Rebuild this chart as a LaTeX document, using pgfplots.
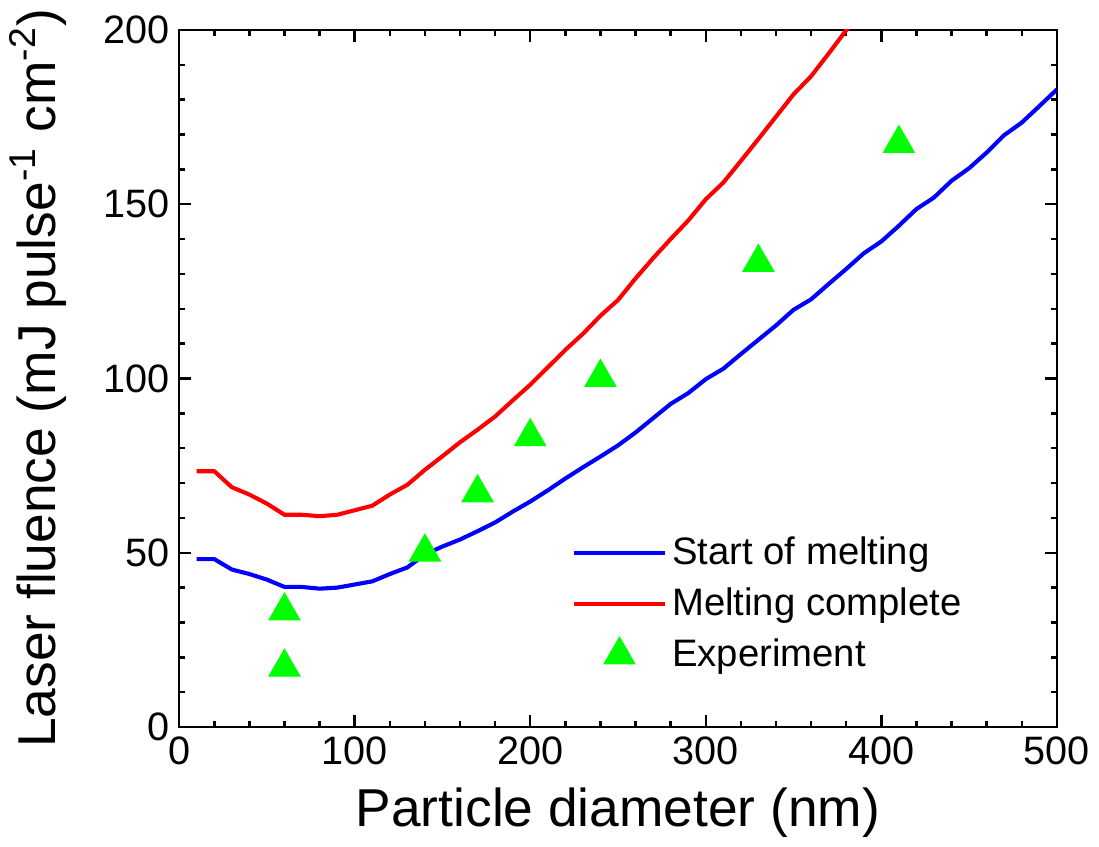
\documentclass[border=0pt]{standalone}
\usepackage{pgfplots}
\pgfplotsset{compat=1.18}
\usepackage{pgfplotstable}
\usepackage{fontspec}
\setmainfont{Liberation Sans}

\pgfplotsset{
    linelegend/.style={legend image code/.code={\draw[##1, line width=1.5pt] (0pt,0pt) -- (33pt,0pt);}},
    marklegend/.style={legend image code/.code={\draw[##1] plot coordinates {(16.5pt,0pt)};}},
}

% start of melting (blue)
\pgfplotstableread{
d f
10 48.2
20 48.2
30 45.2
40 43.9
50 42.3
60 40.2
70 40.2
80 39.7
90 40.0
100 40.9
110 41.8
120 43.9
130 45.8
140 49.5
150 51.8
160 53.8
170 56.2
180 58.7
190 61.8
200 64.7
210 67.9
220 71.3
230 74.5
240 77.6
250 80.8
260 84.5
270 88.6
280 92.7
290 95.8
300 99.8
310 102.8
320 107.0
330 111.1
340 115.2
350 119.7
360 122.7
370 127.1
380 131.4
390 135.9
400 139.3
410 143.8
420 148.6
430 151.9
440 156.7
450 160.3
460 164.8
470 169.8
480 173.4
490 178.1
500 182.9
}\startmelt

% melting complete (red)
\pgfplotstableread{
d f
10 73.4
20 73.4
30 68.8
40 66.7
50 64.1
60 60.9
70 60.9
80 60.5
90 60.9
100 62.2
110 63.5
120 66.7
130 69.5
140 73.8
150 77.7
160 81.7
170 85.3
180 89.1
190 93.7
200 98.2
210 103.2
220 108.2
230 112.8
240 118.0
250 122.5
260 128.7
270 134.5
280 140.0
290 145.3
300 151.4
310 156.2
320 162.4
330 168.7
340 175.1
350 181.5
360 186.7
370 193.2
380 199.9
390 206.5
}\fullmelt

% experiment
\pgfplotstableread{
d f
60 33.3
60 17.2
140 50.2
170 67.2
200 83.3
240 100.3
330 133.3
410 167.4
}\expt

\begin{document}
\begin{tikzpicture}
\begin{axis}[
    scale only axis,
    width=321pt, height=255pt,
    xmin=0, xmax=500, ymin=0, ymax=200,
    xtick={0,100,...,500}, ytick={0,50,...,200},
    minor x tick num=4, minor y tick num=4,
    tick align=inside,
    major tick length=4.4pt, minor tick length=2.2pt,
    axis line style={line width=0.9pt},
    every tick/.style={black, line width=0.9pt},
    /pgf/number format/assume math mode=true,
    ticklabel style={font=\fontsize{14.5}{16}\selectfont},
    xlabel={Particle diameter (nm)},
    ylabel={Laser fluence (mJ pulse\textsuperscript{-1} cm\textsuperscript{-2})},
    label style={font=\fontsize{19.5}{24}\selectfont},
    xlabel style={at={(axis description cs:0.5,0)}, anchor=base, yshift=-36.4pt},
    ylabel style={at={(axis description cs:-0.117,0.5)}, anchor=south},
    legend style={at={(axis cs:219,57.8)}, anchor=north west, draw=none, fill=none,
        font=\fontsize{14}{16}\selectfont, row sep=3pt},
    legend cell align=left,
]
\addplot[blue, line width=1.5pt, linelegend] table[x=d, y=f] {\startmelt};
\addlegendentry{Start of melting}
\addplot[red, line width=1.5pt, linelegend] table[x=d, y=f] {\fullmelt};
\addlegendentry{Melting complete}
\addplot[only marks, mark=triangle*, mark size=6.5pt, color=green, fill=green, marklegend]
    table[x=d, y=f] {\expt};
\addlegendentry{Experiment}
\end{axis}
\end{tikzpicture}
\end{document}
